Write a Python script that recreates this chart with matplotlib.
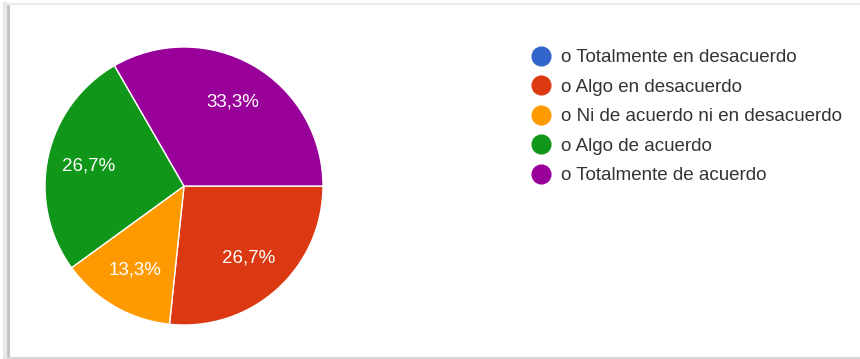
import matplotlib.pyplot as plt
from matplotlib.lines import Line2D

plt.rcParams['font.family'] = ['Liberation Sans', 'DejaVu Sans']

# respuestas por opción
etiquetas = ['o Totalmente en desacuerdo', 'o Algo en desacuerdo',
             'o Ni de acuerdo ni en desacuerdo', 'o Algo de acuerdo',
             'o Totalmente de acuerdo']
respuestas = [0, 4, 2, 4, 5]
colores = ['#3366cc', '#dc3912', '#ff9900', '#109618', '#990099']

fig = plt.figure(figsize=(8.6, 3.59), dpi=100)

# marco de la tarjeta
fig.add_artist(Line2D([8 / 860, 8 / 860], [2 / 359, 355 / 359], color='#c4c4c4', lw=2.2))
fig.add_artist(Line2D([5 / 860, 5 / 860], [2 / 359, 355 / 359], color='#e8e8e8', lw=3))
fig.add_artist(Line2D([8 / 860, 1], [355 / 359, 355 / 359], color='#ececec', lw=1.5))
fig.add_artist(Line2D([8 / 860, 1], [1.5 / 359, 1.5 / 359], color='#d6d6d6', lw=1.5))

ax = fig.add_axes([45 / 860, 34 / 359, 278 / 860, 278 / 359])
ax.pie(respuestas, colors=colores, startangle=0, counterclock=False,
       autopct=lambda p: f'{p:.1f}%'.replace('.', ',') if p > 0 else '',
       pctdistance=0.7, radius=1,
       wedgeprops=dict(edgecolor='white', linewidth=1),
       textprops=dict(color='white', fontsize=13.5))
ax.set_xlim(-1, 1)
ax.set_ylim(-1, 1)
ax.set_aspect('equal')

handles = [Line2D([], [], marker='o', linestyle='', markersize=13.5,
                  markerfacecolor=c, markeredgecolor=c) for c in colores]
fig.legend(handles, etiquetas, loc='upper left', bbox_to_anchor=(532 / 860, 1 - 49 / 359),
           frameon=False, fontsize=13.5, labelcolor='#333333', handletextpad=0.55,
           labelspacing=0.66, handlelength=1.0, borderpad=0, borderaxespad=0)

fig.savefig('out.png', dpi=100)
